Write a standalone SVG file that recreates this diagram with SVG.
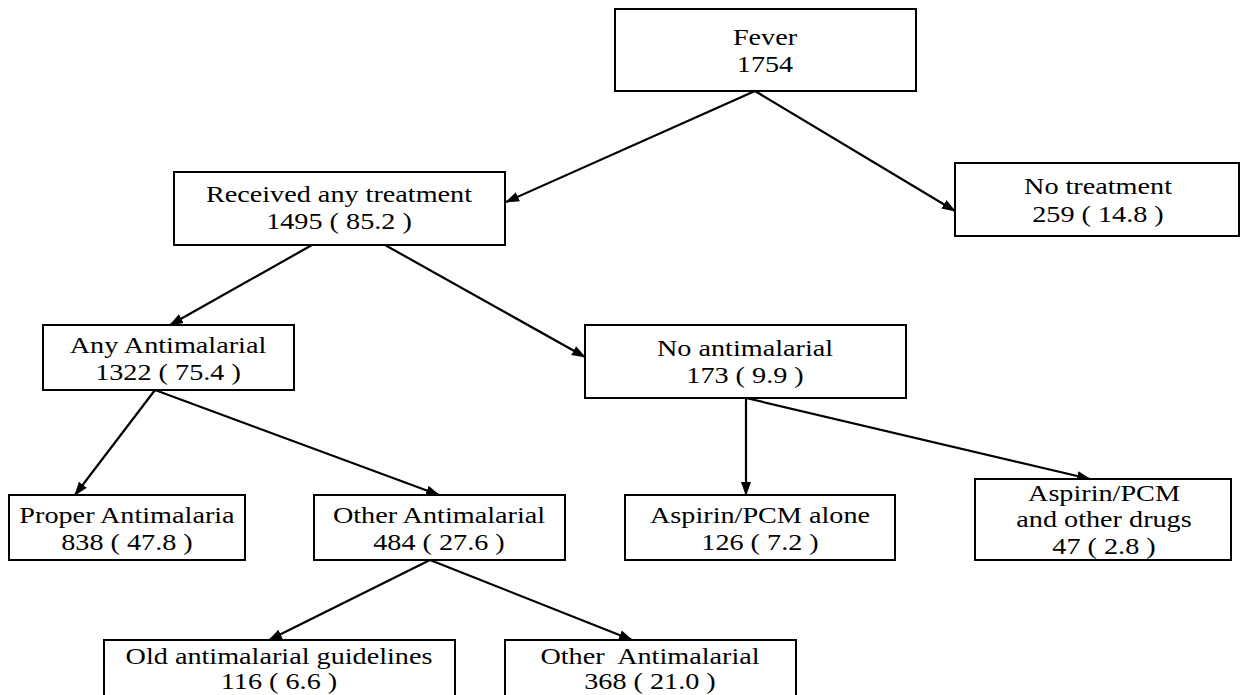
<svg xmlns="http://www.w3.org/2000/svg" width="1241" height="695" viewBox="0 0 1241 695">
<style>
.box{fill:#fff;stroke:#000;stroke-width:2}
.t{font-family:"Liberation Serif","Times New Roman",serif;font-size:24px;fill:#000;text-anchor:middle}
.c{stroke:#000;stroke-width:2.2;fill:none;marker-end:url(#ah)}
</style>
<defs>
<marker id="ah" markerUnits="userSpaceOnUse" markerWidth="14" markerHeight="12" viewBox="0 0 14 12" refX="13" refY="6" orient="auto">
<path d="M0,1 L14,6 L0,11 Z" fill="#000"/>
</marker>
</defs>
<rect width="1241" height="695" fill="#fff"/>
<g id="connectors">
<line class="c" x1="755" y1="91" x2="506" y2="202"/>
<line class="c" x1="755" y1="91" x2="955" y2="211"/>
<line class="c" x1="312" y1="245" x2="170" y2="325"/>
<line class="c" x1="385" y1="245" x2="585" y2="357"/>
<line class="c" x1="155" y1="390" x2="75" y2="495"/>
<line class="c" x1="155" y1="390" x2="439" y2="495"/>
<line class="c" x1="746" y1="398" x2="746" y2="495"/>
<line class="c" x1="746" y1="398" x2="1090" y2="479"/>
<line class="c" x1="430" y1="560" x2="269" y2="640"/>
<line class="c" x1="430" y1="560" x2="632" y2="640"/>
</g>
<g id="fever">
<rect class="box" x="615" y="9" width="301" height="82"/>
<g transform="translate(765 0) scale(1.175 1)"><text class="t" x="0" y="45">Fever</text><text class="t" x="0" y="72">1754</text></g>
</g>
<g id="received">
<rect class="box" x="174" y="172" width="331" height="73"/>
<g transform="translate(339 0) scale(1.175 1)"><text class="t" x="0" y="202">Received any treatment</text><text class="t" x="0" y="229">1495 ( 85.2 )</text></g>
</g>
<g id="notreatment">
<rect class="box" x="955" y="163" width="284" height="73"/>
<g transform="translate(1098 0) scale(1.175 1)"><text class="t" x="0" y="194">No treatment</text><text class="t" x="0" y="222">259 ( 14.8 )</text></g>
</g>
<g id="anyanti">
<rect class="box" x="43" y="325" width="251" height="65"/>
<g transform="translate(168 0) scale(1.175 1)"><text class="t" x="0" y="353">Any Antimalarial</text><text class="t" x="0" y="380">1322 ( 75.4 )</text></g>
</g>
<g id="noanti">
<rect class="box" x="585" y="325" width="321" height="73"/>
<g transform="translate(745 0) scale(1.175 1)"><text class="t" x="0" y="356">No antimalarial</text><text class="t" x="0" y="383">173 ( 9.9 )</text></g>
</g>
<g id="proper">
<rect class="box" x="9" y="495" width="236" height="65"/>
<g transform="translate(127 0) scale(1.175 1)"><text class="t" x="0" y="523">Proper Antimalaria</text><text class="t" x="0" y="550">838 ( 47.8 )</text></g>
</g>
<g id="otheranti">
<rect class="box" x="314" y="495" width="251" height="65"/>
<g transform="translate(439 0) scale(1.175 1)"><text class="t" x="0" y="523">Other Antimalarial</text><text class="t" x="0" y="550">484 ( 27.6 )</text></g>
</g>
<g id="aspalone">
<rect class="box" x="625" y="495" width="270" height="65"/>
<g transform="translate(760 0) scale(1.175 1)"><text class="t" x="0" y="523">Aspirin/PCM alone</text><text class="t" x="0" y="550">126 ( 7.2 )</text></g>
</g>
<g id="aspother">
<rect class="box" x="975" y="479" width="256" height="81"/>
<g transform="translate(1104 0) scale(1.175 1)"><text class="t" x="0" y="501">Aspirin/PCM</text><text class="t" x="0" y="527">and other drugs</text><text class="t" x="0" y="554">47 ( 2.8 )</text></g>
</g>
<g id="old">
<rect class="box" x="104" y="640" width="351" height="70"/>
<g transform="translate(279 0) scale(1.175 1)"><text class="t" x="0" y="664">Old antimalarial guidelines</text><text class="t" x="0" y="689">116 ( 6.6 )</text></g>
</g>
<g id="otheranti2">
<rect class="box" x="505" y="640" width="291" height="70"/>
<g transform="translate(650 0) scale(1.175 1)"><text class="t" x="0" y="664" xml:space="preserve">Other  Antimalarial</text><text class="t" x="0" y="689">368 ( 21.0 )</text></g>
</g>
</svg>
